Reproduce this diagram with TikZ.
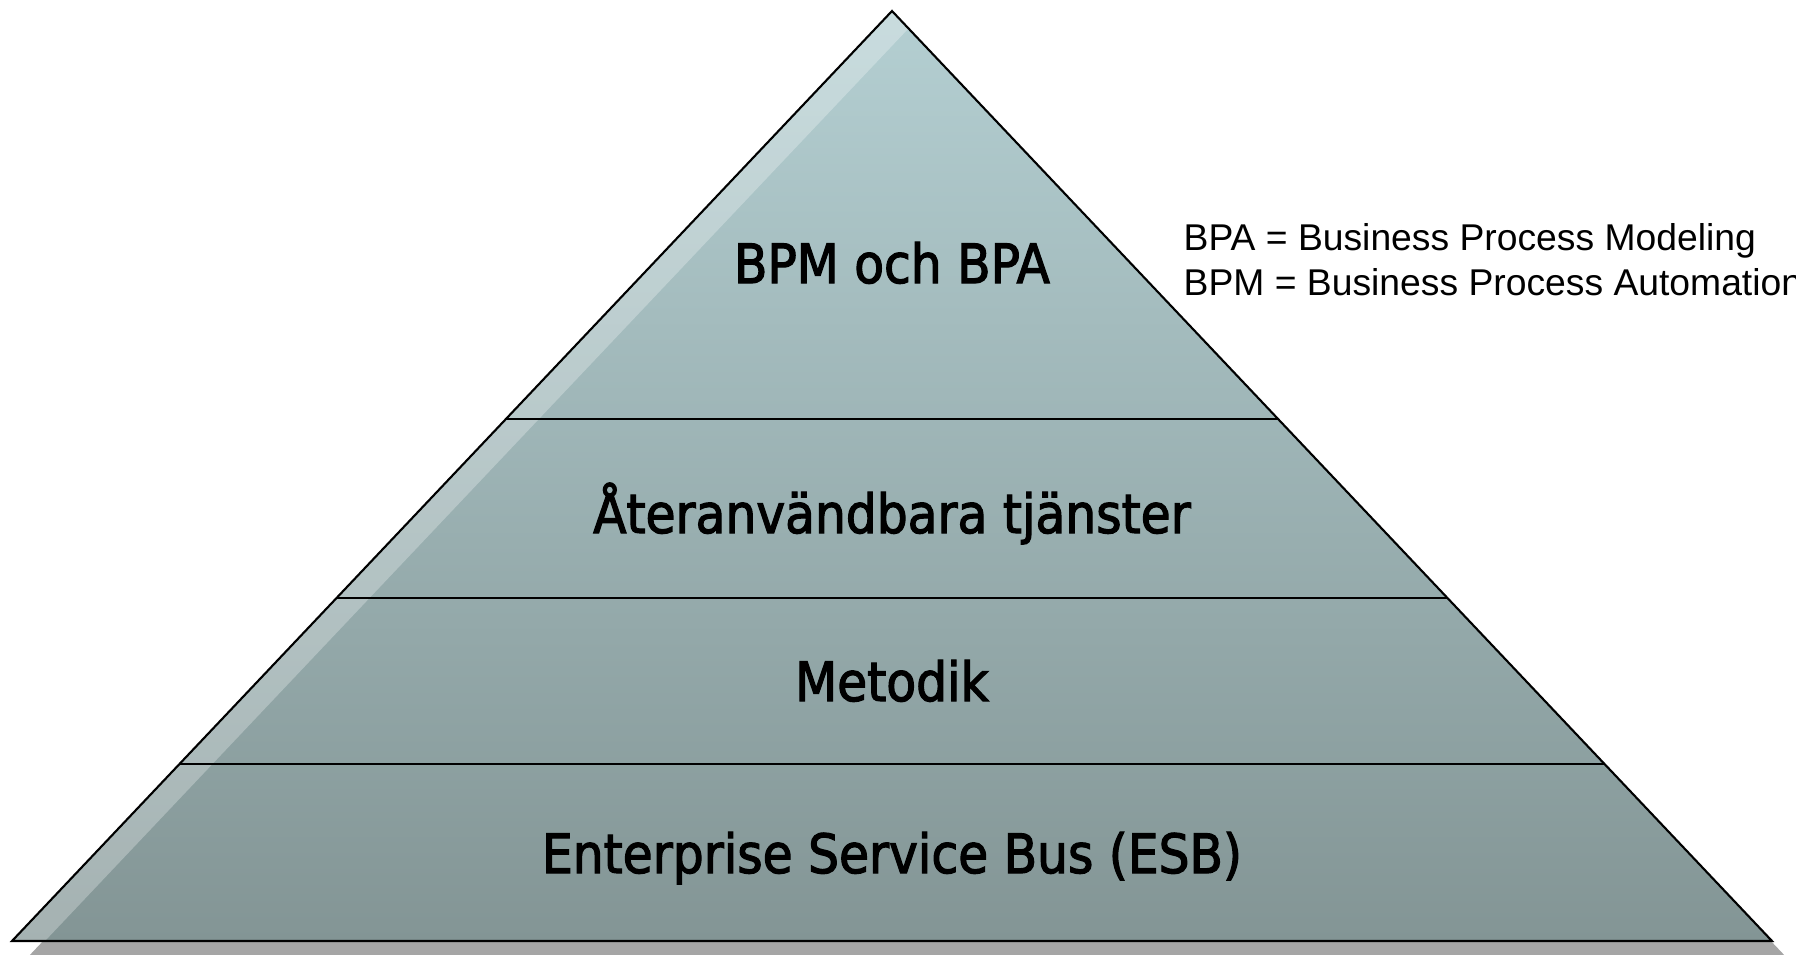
\documentclass[tikz,border=0pt]{standalone}
\usepackage{fontspec}
\newfontfamily\nivafont{DejaVu Sans Condensed}[FakeBold=2.2]
\newfontfamily\arialfont{Liberation Sans}
\usetikzlibrary{calc}

\definecolor{pyrtop}{RGB}{180,207,210}
\definecolor{pyrbot}{RGB}{131,149,149}
\definecolor{skugga}{RGB}{165,165,165}

\tikzset{
  niva/.style={font=\nivafont\fontsize{15.4}{18}\selectfont, anchor=base},
  notis/.style={font=\arialfont\fontsize{10.6}{12.7}\selectfont, anchor=base west, inner sep=0pt},
  kant/.style={line width=0.6pt}
}

\begin{document}
\begin{tikzpicture}[x=0.01cm,y=-0.01cm]
			\useasboundingbox (0,0) rectangle (1796,954);

			% Hörn
			\coordinate (topp) at (892,11);
			\coordinate (vb) at (12,941);
			\coordinate (hb) at (1772,941);

			% Skugga
			\fill[skugga] ($(topp)+(15,17)$) -- ($(vb)+(15,17)$) -- ($(hb)+(15,17)$) -- cycle;

			% Pyramid med ljus kant
			\shade[top color=pyrtop, bottom color=pyrbot] (topp) -- (vb) -- (hb) -- cycle;
			\begin{scope}
				\clip (topp) -- (vb) -- (hb) -- cycle;
				\fill[white, opacity=0.28] (topp) -- (vb) -- ($(vb)+(33,0)$) -- ($(topp)+(33,0)$) -- cycle;
			\end{scope}

			% Nivåer
			\coordinate (v1) at ($(topp)!0.4387!(vb)$);
			\coordinate (h1) at ($(topp)!0.4387!(hb)$);
			\coordinate (v2) at ($(topp)!0.6312!(vb)$);
			\coordinate (h2) at ($(topp)!0.6312!(hb)$);
			\coordinate (v3) at ($(topp)!0.8097!(vb)$);
			\coordinate (h3) at ($(topp)!0.8097!(hb)$);
			\draw[kant] (v1) -- (h1);
			\draw[kant] (v2) -- (h2);
			\draw[kant] (v3) -- (h3);
			\draw[kant] (topp) -- (vb) -- (hb) -- cycle;

			% Texter
			\node[niva] (bpm) at (892,283) {BPM och BPA};
			\node[niva] (ateranv) at (892,533) {Återanvändbara tjänster};
			\node[niva] (metodik) at (892,701) {Metodik};
			\node[niva] (esb) at (892,873) {Enterprise Service Bus (ESB)};

			% Förklaring
			\node[notis] (bpa) at (1183,250) {BPA = Business Process Modeling};
			\node[notis] (bpmtext) at (1183,295) {BPM = Business Process Automation};

		\end{tikzpicture}
\end{document}
